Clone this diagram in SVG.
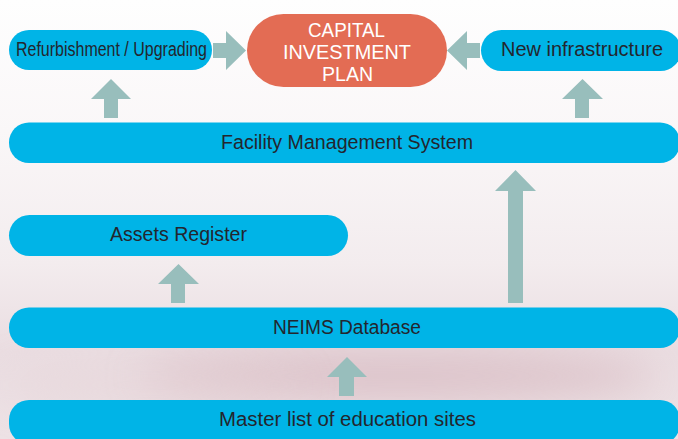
<svg xmlns="http://www.w3.org/2000/svg" width="678" height="439" viewBox="0 0 678 439">
  <defs>
    <linearGradient id="bg" x1="0" y1="0" x2="0" y2="1">
      <stop offset="0" stop-color="#FEFEFE"/>
      <stop offset="0.3" stop-color="#FAF7F8"/>
      <stop offset="0.6" stop-color="#F3ECEE"/>
      <stop offset="0.8" stop-color="#EADDE1"/>
      <stop offset="1" stop-color="#EDE2E5"/>
    </linearGradient>
    <filter id="blur" x="-50%" y="-300%" width="200%" height="700%">
      <feGaussianBlur stdDeviation="20"/>
    </filter>
    <style>
      .pill { fill: #00B4E7; }
      .cap { fill: #E36C54; }
      .arrow { fill: #98BEBC; }
      .lbl { font-family: "Liberation Sans", Arial, sans-serif; font-size: 19.5px; fill: #23262E; text-anchor: middle; }
      .clbl { font-family: "Liberation Sans", Arial, sans-serif; font-size: 20px; fill: #FFFFFF; text-anchor: middle; }
    </style>
  </defs>

  <rect x="0" y="0" width="678" height="439" fill="url(#bg)"/>
  <ellipse cx="400" cy="376" rx="260" ry="26" fill="#D3B1B9" opacity="0.6" filter="url(#blur)"/>
  <ellipse cx="150" cy="385" rx="150" ry="20" fill="#E4D0D5" opacity="0.5" filter="url(#blur)"/>

  <g id="connectors">
    <polygon class="arrow" points="213,43 226,43 226,31 246,50.5 226,70 226,58 213,58"/>
    <polygon class="arrow" points="480,43 467,43 467,31 447,50.5 467,70 467,58 480,58"/>
    <polygon class="arrow" points="104,118 104,99 91,99 111,79 131,99 118,99 118,118"/>
    <polygon class="arrow" points="575,118 575,99 562,99 582.5,79 603,99 589,99 589,118"/>
    <polygon class="arrow" points="508,303 508,191 495,191 515.5,170 536,191 523,191 523,303"/>
    <polygon class="arrow" points="171,303 171,284 158,284 178.5,264 199,284 185,284 185,303"/>
    <polygon class="arrow" points="339,396 339,377 327,377 347,357 367,377 354,377 354,396"/>
  </g>

  <g id="refurbishment">
    <rect class="pill" x="9" y="30" width="203" height="40" rx="20"/>
    <text class="lbl" x="111.5" y="56" textLength="191" lengthAdjust="spacingAndGlyphs">Refurbishment / Upgrading</text>
  </g>

  <g id="capital-investment-plan">
    <rect class="cap" x="247" y="14" width="200" height="73" rx="36.5"/>
    <text class="clbl" x="346.5" y="36.5" textLength="77" lengthAdjust="spacingAndGlyphs">CAPITAL</text>
    <text class="clbl" x="347" y="59" textLength="128" lengthAdjust="spacingAndGlyphs">INVESTMENT</text>
    <text class="clbl" x="347.5" y="81" textLength="51" lengthAdjust="spacingAndGlyphs">PLAN</text>
  </g>

  <g id="new-infrastructure">
    <rect class="pill" x="481" y="30" width="200" height="41" rx="20.5"/>
    <text class="lbl" x="582" y="56" textLength="162" lengthAdjust="spacingAndGlyphs">New infrastructure</text>
  </g>

  <g id="facility-management-system">
    <rect class="pill" x="9" y="122.5" width="671" height="40.5" rx="20"/>
    <text class="lbl" x="347" y="148.5" textLength="252" lengthAdjust="spacingAndGlyphs">Facility Management System</text>
  </g>

  <g id="assets-register">
    <rect class="pill" x="9" y="215" width="339" height="41" rx="20.5"/>
    <text class="lbl" x="178.5" y="241" textLength="137" lengthAdjust="spacingAndGlyphs">Assets Register</text>
  </g>

  <g id="neims-database">
    <rect class="pill" x="9" y="307.5" width="671" height="40.5" rx="20"/>
    <text class="lbl" x="347" y="334" textLength="148" lengthAdjust="spacingAndGlyphs">NEIMS Database</text>
  </g>

  <g id="master-list">
    <rect class="pill" x="9" y="400" width="671" height="44" rx="20"/>
    <text class="lbl" x="347.5" y="425.5" textLength="257" lengthAdjust="spacingAndGlyphs">Master list of education sites</text>
  </g>
</svg>
